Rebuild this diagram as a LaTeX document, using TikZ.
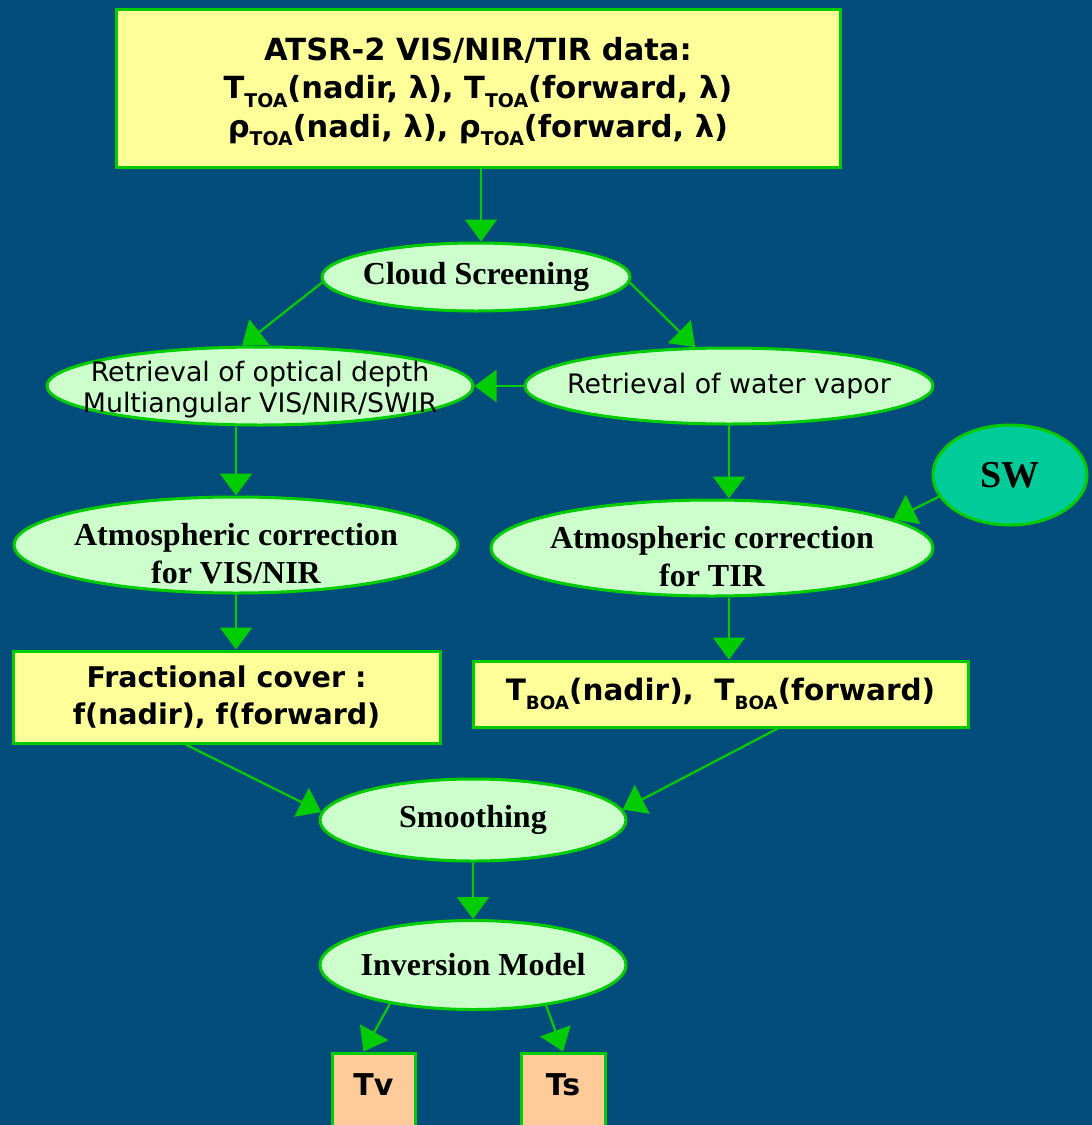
\documentclass[tikz,border=0pt]{standalone}
\usepackage{fontspec}
\setmainfont{Liberation Serif}
\newfontfamily\sansf{DejaVu Sans}
\usetikzlibrary{shapes.geometric,arrows.meta,calc}
\definecolor{bgc}{RGB}{0,76,122}
\definecolor{gborder}{RGB}{0,204,0}
\definecolor{lgreen}{RGB}{204,255,204}
\definecolor{yel}{RGB}{255,255,153}
\definecolor{swc}{RGB}{0,204,153}
\definecolor{peach}{RGB}{255,204,153}
\newcommand\fsz[2]{\fontsize{#1}{#2}\selectfont}
\newcommand\subtx[1]{\raisebox{-0.28em}{\scalebox{0.62}{#1}}}
\tikzset{
  yelbox/.style={rectangle, draw=gborder, fill=yel, line width=3pt, inner sep=0pt, align=center, text=black},
  ovalnode/.style={ellipse, draw=gborder, fill=lgreen, line width=3pt, inner xsep=-80pt, inner ysep=-30pt, align=center, text=black},
  serifb/.style={font=\bfseries\fsz{32}{38}},
  sansr/.style={font=\sansf\fsz{26.8}{30.5}},
  sansb/.style={font=\sansf\bfseries\fsz{28.5}{37}},
  pbox/.style={rectangle, draw=gborder, fill=peach, line width=3pt, inner sep=0pt, font=\sansf\bfseries\fsz{30}{32}, minimum height=80pt},
  arr/.style={draw=gborder, line width=2.2pt, -{Triangle[length=22pt,width=32pt]}},
}
\begin{document}
\begin{tikzpicture}[x=1pt,y=-1pt]
\fill[bgc] (0,0) rectangle (1092,1125);
\useasboundingbox (0,0) rectangle (1092,1125);

\node[yelbox, minimum width=724pt, minimum height=158pt, font=\sansf\bfseries\fsz{30.5}{38.5}] (top) at (478,88)
  {\rule{0pt}{30pt}ATSR-2 VIS/NIR/TIR data:\\T\subtx{TOA}(nadir, λ), T\subtx{TOA}(forward, λ)\\ρ\subtx{TOA}(nadi, λ), ρ\subtx{TOA}(forward, λ)};

\node[ovalnode, serifb, minimum width=308pt, minimum height=68pt] (cloud) at (476,277) {Cloud Screening};
\node[ovalnode, sansr, minimum width=426pt, minimum height=78pt] (opt) at (260,386) {\rule{0pt}{28pt}Retrieval of optical depth\\Multiangular VIS/NIR/SWIR};
\node[ovalnode, sansr, minimum width=408pt, minimum height=76pt] (wv) at (729,386) {Retrieval of water vapor};
\node[ovalnode, fill=swc, font=\bfseries\fsz{38}{40}, minimum width=154pt, minimum height=100pt] (sw) at (1010,475) {SW};
\node[ovalnode, serifb, minimum width=444pt, minimum height=96pt] (vis) at (236,545) {\rule{0pt}{40pt}Atmospheric correction\\for VIS/NIR};
\node[ovalnode, serifb, minimum width=442pt, minimum height=96pt] (tir) at (712,548) {\rule{0pt}{40pt}Atmospheric correction\\for TIR};
\node[yelbox, sansb, minimum width=427pt, minimum height=92pt] (frac) at (226.5,697) {Fractional cover :\\f(nadir), f(forward)};
\node[yelbox, font=\sansf\bfseries\fsz{29.5}{37}, minimum width=495pt, minimum height=66pt] (tboa) at (720.5,694) {T\subtx{BOA}(nadir),~ T\subtx{BOA}(forward)};
\node[ovalnode, serifb, minimum width=306pt, minimum height=82pt] (sm) at (473,820) {Smoothing};
\node[ovalnode, serifb, minimum width=306pt, minimum height=89pt] (inv) at (473,965) {Inversion Model};
\node[pbox, minimum width=83pt] (tv) at (373.5,1093) {\rule[-16pt]{0pt}{0pt}Tv};
\node[pbox, minimum width=84pt] (ts) at (563,1093) {\rule[-16pt]{0pt}{0pt}Ts};

\draw[arr] ($(top.south)+(3,0)$) -- ($(top.south |- cloud.north)+(3,0)$);
\draw[arr] (cloud.182) -- (opt.114);
\draw[arr] (cloud.-2) -- (wv.131);
\draw[arr] (wv.west) -- (opt.east);
\draw[arr] (vis.north |- opt.south) -- (vis.north);
\draw[arr] (vis.south) -- (vis.south |- frac.north);
\draw[arr] (wv.south) -- (wv.south |- tir.north);
\draw[arr] (wv.south |- tir.south) -- (wv.south |- tboa.north);
\draw[arr] (sw.197) -- (tir.9);
\draw[arr] ($(frac.south)!0.19!(frac.south west)$) -- (sm.177);
\draw[arr] ($(tboa.south)!0.23!(tboa.south east)$) -- (sm.4);
\draw[arr] (sm.south) -- (inv.north);
\draw[arr] (inv.205) -- ($(tv.north)+(-10,0)$);
\draw[arr] (inv.-29) -- (ts.north);
\end{tikzpicture}
\end{document}
